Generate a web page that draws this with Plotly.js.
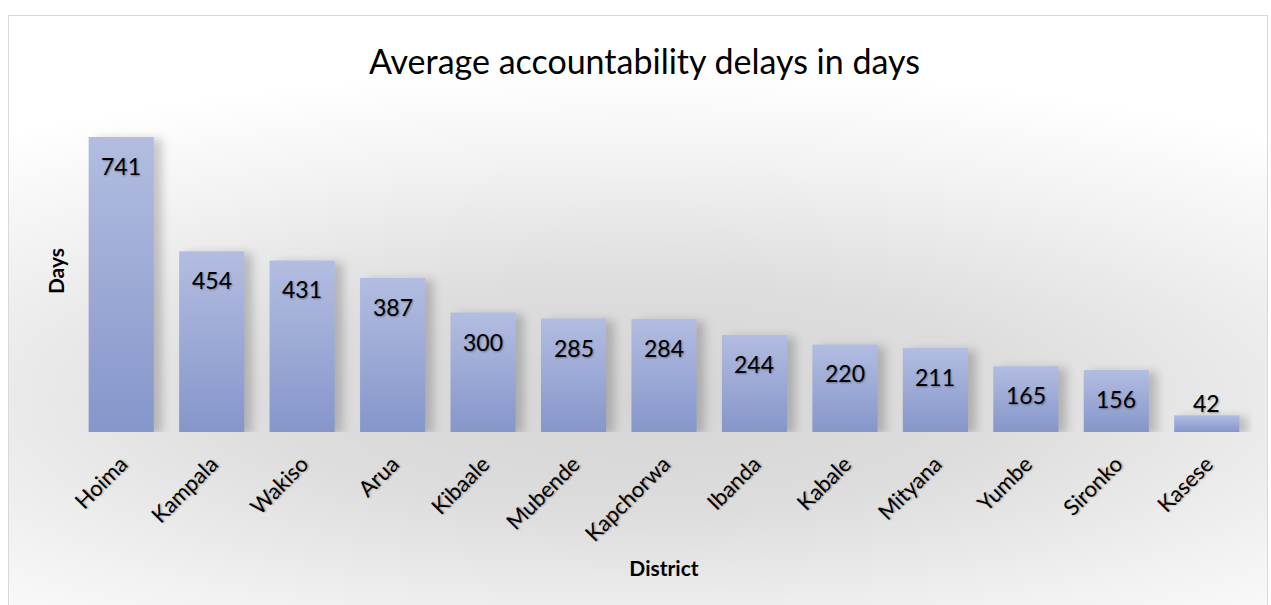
<!DOCTYPE html>
<html>
<head>
<meta charset="utf-8">
<script src="https://cdn.plot.ly/plotly-3.0.1.min.js"></script>
<style>
  html, body { margin: 0; padding: 0; background: #ffffff; }
  #frame {
    position: absolute; left: 8px; top: 15px; width: 1260px; height: 600px;
    border: 1px solid #d9d9d9; box-sizing: border-box;
    background: radial-gradient(ellipse 85% 55% at 50% 64%, #d5d5d5 0%, #dddddd 35%, #f2f2f2 72%, #ffffff 100%);
  }
  #chart { position: absolute; left: 0; top: 0; width: 1271px; height: 605px; }
  .bars path { filter: drop-shadow(8px 2px 5px rgba(0,0,0,0.2)); }
</style>
</head>
<body>
<div id="frame"></div>
<div id="chart"></div>
<script>
const districts = ["Hoima","Kampala","Wakiso","Arua","Kibaale","Mubende","Kapchorwa","Ibanda","Kabale","Mityana","Yumbe","Sironko","Kasese"];
const delays = [741,454,431,387,300,285,284,244,220,211,165,156,42];
const chartTitle = "Average accountability delays in days";
const xTitle = "District";
const yTitle = "Days";

const labelFont = {family: "Lato, 'Open Sans', sans-serif", size: 23, color: "#000000", shadow: "1px 1px 2px rgba(0,0,0,0.35)"};

const annotations = districts.map((d, i) => ({
  x: d, y: delays[i], xref: "x", yref: "y",
  text: String(delays[i]), showarrow: false,
  yshift: delays[i] < 100 ? 12 : -29,
  font: labelFont
}));

const data = [{
  type: "bar",
  x: districts,
  y: delays,
  marker: {color: "#9eabd7", line: {width: 0}},
  hoverinfo: "skip"
}];

const layout = {
  width: 1271, height: 605,
  paper_bgcolor: "rgba(0,0,0,0)",
  plot_bgcolor: "rgba(0,0,0,0)",
  margin: {l: 76, r: 19, t: 110, b: 173},
  bargap: 0.28,
  showlegend: false,
  title: {
    text: chartTitle, x: 0.507, xanchor: "center", y: 0.897, yanchor: "middle",
    font: {family: "Lato, 'Open Sans', sans-serif", size: 34, color: "#000000"}
  },
  xaxis: {
    tickangle: -45,
    ticks: "", showline: false, showgrid: false, zeroline: false,
    tickfont: {family: "Lato, 'Open Sans', sans-serif", size: 22, color: "#000000", shadow: "1px 1px 2px rgba(0,0,0,0.3)"},
    ticklabelstandoff: 14,
    automargin: false,
    title: {text: "<b>" + xTitle + "</b>", standoff: 15,
      font: {family: "Lato, 'Open Sans', sans-serif", size: 21, color: "#000000"}}
  },
  yaxis: {
    range: [0, 809],
    showticklabels: false, ticks: "", showline: false, showgrid: false, zeroline: false,
    automargin: false,
    title: {text: "<b>" + yTitle + "</b>", standoff: 4,
      font: {family: "Lato, 'Open Sans', sans-serif", size: 21, color: "#000000"}}
  },
  annotations: annotations
};

Plotly.newPlot("chart", data, layout, {staticPlot: true, displayModeBar: false}).then(function(gd) {
  const svg = gd.querySelector("svg.main-svg");
  const ns = "http://www.w3.org/2000/svg";
  let defs = svg.querySelector("defs");
  if (!defs) { defs = document.createElementNS(ns, "defs"); svg.insertBefore(defs, svg.firstChild); }
  const grad = document.createElementNS(ns, "linearGradient");
  grad.setAttribute("id", "barGrad");
  grad.setAttribute("x1", "0"); grad.setAttribute("y1", "0");
  grad.setAttribute("x2", "0"); grad.setAttribute("y2", "1");
  [["0%", "#b3bde1"], ["100%", "#8596ca"]].forEach(function(s) {
    const st = document.createElementNS(ns, "stop");
    st.setAttribute("offset", s[0]); st.setAttribute("stop-color", s[1]);
    grad.appendChild(st);
  });
  defs.appendChild(grad);
  gd.querySelectorAll(".bars path").forEach(function(p) { p.style.fill = "url(#barGrad)"; });
});
</script>
</body>
</html>
